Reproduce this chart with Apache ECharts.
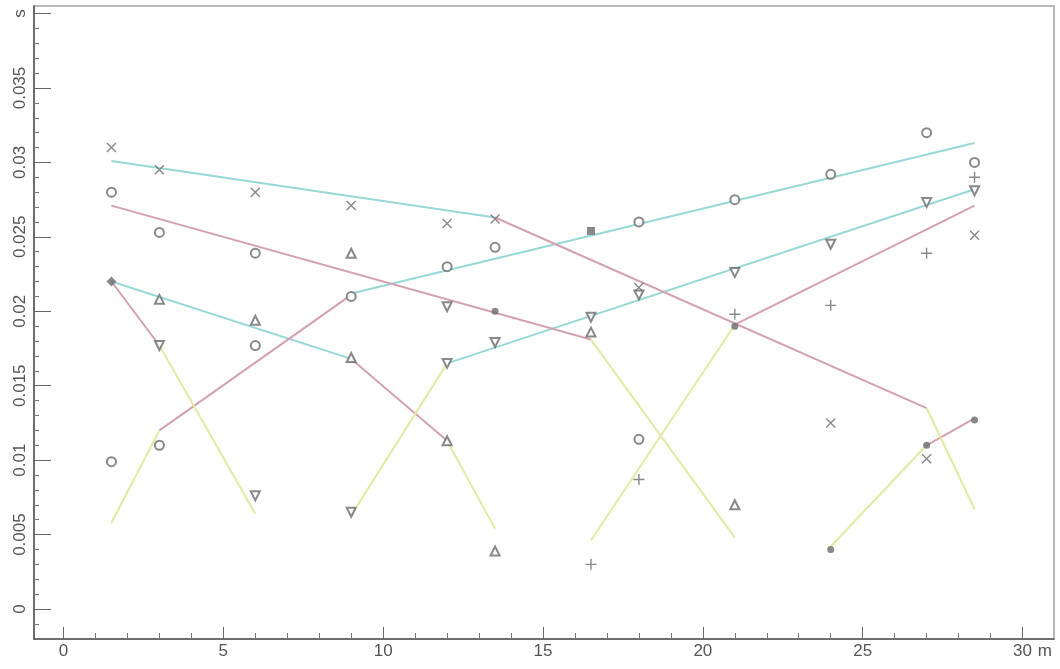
<!DOCTYPE html>
<html>
<head>
<meta charset="utf-8">
<title>Travel-time curves</title>
<script src="https://cdn.jsdelivr.net/npm/echarts@6/dist/echarts.min.js"></script>
<style>
  html, body { margin: 0; padding: 0; background: #ffffff; }
  #chart { width: 1060px; height: 669px; }
</style>
</head>
<body>
<div id="chart"></div>
<script>
// Geophone picks (distance in m, arrival time in s), grouped by plotting symbol
const crossPicks = [[1.5,0.0310],[3,0.0295],[6,0.0280],[9,0.0271],[12,0.0259],[13.5,0.0262],[18,0.0216],[24,0.0125],[27,0.0101],[28.5,0.0251]];
const circlePicks = [[1.5,0.0280],[1.5,0.0099],[3,0.0253],[3,0.0110],[6,0.0239],[6,0.0177],[9,0.0210],[12,0.0230],[13.5,0.0243],[18,0.0260],[18,0.0114],[21,0.0275],[24,0.0292],[27,0.0320],[28.5,0.0300]];
const trianglePicks = [[3,0.0208],[6,0.0194],[9,0.0239],[9,0.0169],[12,0.0113],[13.5,0.0039],[16.5,0.0186],[21,0.0070]];
const invTrianglePicks = [[3,0.0177],[6,0.0076],[9,0.0065],[12,0.0203],[12,0.0165],[13.5,0.0179],[16.5,0.0196],[18,0.0211],[21,0.0226],[24,0.0245],[27,0.0273],[28.5,0.0281]];
const plusPicks = [[16.5,0.0030],[18,0.0087],[21,0.0198],[24,0.0204],[27,0.0239],[28.5,0.0290]];
const dotPicks = [[13.5,0.0200],[21,0.0190],[24,0.0040],[27,0.0110],[28.5,0.0127]];
const squarePicks = [[16.5,0.0254]];
const diamondPicks = [[1.5,0.0220]];

// Fitted travel-time segments, one array of [start, end] pairs per colour
const cyanSegments = [
  [[1.5,0.0301],[13.5,0.0263]],
  [[1.5,0.0220],[9,0.0168]],
  [[12,0.0165],[28.5,0.0282]],
  [[9,0.0212],[28.5,0.0313]]
];
const pinkSegments = [
  [[1.5,0.0271],[16.5,0.0181]],
  [[13.5,0.0263],[27,0.0135]],
  [[21,0.0191],[28.5,0.0271]],
  [[27,0.0110],[28.5,0.0128]],
  [[1.5,0.0220],[3,0.0177]],
  [[3,0.0120],[9,0.0211]],
  [[9,0.0168],[12,0.0113]]
];
const yellowSegments = [
  [[1.5,0.0058],[3,0.0120]],
  [[3,0.0177],[6,0.0064]],
  [[9,0.0063],[12,0.0165]],
  [[12,0.0113],[13.5,0.0054]],
  [[16.5,0.0046],[21,0.0191]],
  [[16.5,0.0181],[21,0.0048]],
  [[24,0.0042],[27,0.0110]],
  [[27,0.0135],[28.5,0.0067]]
];

// Axis ranges, tick values and units
const xRange = [-0.923, 30.985];
const yRange = [-0.002015, 0.040508];
const xTickValues = [0, 5, 10, 15, 20, 25, 30];
const yTickValues = [0, 0.005, 0.01, 0.015, 0.02, 0.025, 0.03, 0.035, 0.04];
const xUnit = 'm';
const yUnit = 's';
const xUnitAt = 30.7;

// minor ticks every 1 m and every 1 ms
const xMinorValues = [];
for (let i = 0; i <= 30; i++) if (i % 5 !== 0) xMinorValues.push(i);
const yMinorValues = [];
for (let i = -1; i <= 40; i++) if (i % 5 !== 0) yMinorValues.push(i / 1000);

const markColor = '#6c6c6c';
const labelFont = { fontFamily: 'Liberation Sans, Arial, sans-serif', fontSize: 17, color: '#555' };

function segmentSeries(segments, color) {
  return segments.map(seg => ({
    type: 'line',
    data: seg,
    symbol: 'none',
    silent: true,
    z: 1,
    lineStyle: { color: color, width: 2 }
  }));
}

function pickSeries(data, symbol, size, style, rotate) {
  return {
    type: 'scatter',
    data: data,
    symbol: symbol,
    symbolSize: size,
    symbolRotate: rotate || 0,
    silent: true,
    z: 3,
    itemStyle: style
  };
}

const strokeOnly = { color: 'transparent', borderColor: markColor, borderWidth: 1.4 };
const hollow = { color: markColor, borderWidth: 1.4 };
const solid = { color: markColor };

const chart = echarts.init(document.getElementById('chart'), null, { renderer: 'canvas' });

chart.setOption({
  animation: false,
  backgroundColor: '#ffffff',
  grid: {
    left: 34, right: 6, top: 6, bottom: 30,
    show: true, borderColor: '#a3a3a3', borderWidth: 1.5, backgroundColor: 'transparent'
  },
  xAxis: [
    {
      type: 'value', min: xRange[0], max: xRange[1],
      axisLine: { show: true, onZero: false, lineStyle: { color: '#555', width: 1.5 } },
      axisTick: { show: true, inside: true, length: 12, customValues: xTickValues, lineStyle: { color: '#666', width: 1 } },
      splitLine: { show: false },
      axisLabel: Object.assign({
        margin: 4,
        customValues: xTickValues.concat([xUnitAt]),
        formatter: v => (v === xUnitAt ? xUnit : String(v))
      }, labelFont)
    },
    {
      type: 'value', min: xRange[0], max: xRange[1], position: 'bottom',
      axisLine: { show: false, onZero: false },
      axisTick: { show: true, inside: true, length: 6, customValues: xMinorValues, lineStyle: { color: '#777', width: 1 } },
      axisLabel: { show: false }, splitLine: { show: false }
    }
  ],
  yAxis: [
    {
      type: 'value', min: yRange[0], max: yRange[1],
      axisLine: { show: true, onZero: false, lineStyle: { color: '#555', width: 1.5 } },
      axisTick: { show: true, inside: true, length: 17, customValues: yTickValues, lineStyle: { color: '#666', width: 1 } },
      splitLine: { show: false },
      axisLabel: Object.assign({
        margin: 5,
        rotate: 90,
        customValues: yTickValues,
        formatter: v => (v >= 0.04 - 1e-6 ? yUnit : String(+v.toFixed(4)))
      }, labelFont)
    },
    {
      type: 'value', min: yRange[0], max: yRange[1], position: 'left',
      axisLine: { show: false, onZero: false },
      axisTick: { show: true, inside: true, length: 5, customValues: yMinorValues, lineStyle: { color: '#777', width: 1 } },
      axisLabel: { show: false }, splitLine: { show: false }
    }
  ],
  series: [].concat(
    segmentSeries(cyanSegments, '#98d8d6'),
    segmentSeries(pinkSegments, '#d3a1b2'),
    segmentSeries(yellowSegments, '#e4e9a4'),
    [
      pickSeries(crossPicks, 'path://M0,0L10,10M10,0L0,10', 9, strokeOnly),
      pickSeries(circlePicks, 'emptyCircle', 9, hollow),
      pickSeries(trianglePicks, 'emptyTriangle', 9, hollow),
      pickSeries(invTrianglePicks, 'emptyTriangle', 9, hollow, 180),
      pickSeries(plusPicks, 'path://M5,0L5,10M0,5L10,5', 11, strokeOnly),
      pickSeries(dotPicks, 'circle', 7, solid),
      pickSeries(squarePicks, 'rect', 8, solid),
      pickSeries(diamondPicks, 'diamond', 10, solid)
    ]
  )
});
</script>
</body>
</html>
